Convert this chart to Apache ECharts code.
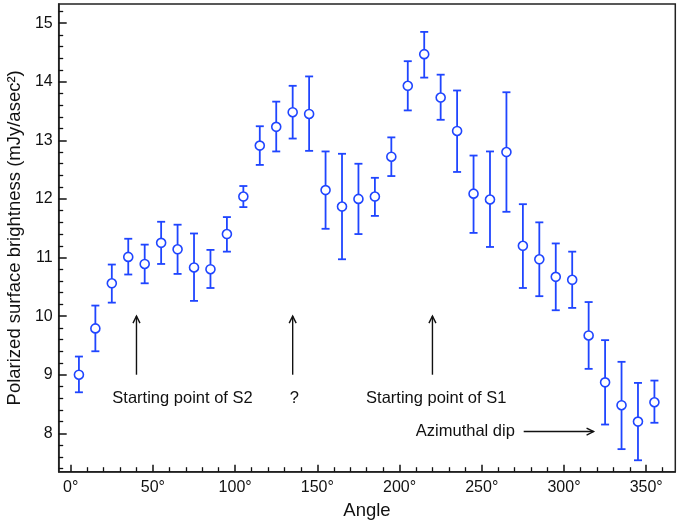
<!DOCTYPE html>
<html><head><meta charset="utf-8">
<script src="https://cdn.jsdelivr.net/npm/echarts@6/dist/echarts.min.js"></script>
<style>html,body{margin:0;padding:0;background:#fff}#c{width:690px;height:524px}</style>
</head><body><div id="c"></div>
<script>
var angles = [5,15,25,35,45,55,65,75,85,95,105,115,125,135,145,155,165,175,185,195,205,215,225,235,245,255,265,275,285,295,305,315,325,335,345,355];
var values = [9.00,9.79,10.56,11.01,10.89,11.25,11.14,10.83,10.80,11.40,12.04,12.91,13.23,13.48,13.45,12.15,11.87,12.00,12.04,12.72,13.93,14.47,13.73,13.16,12.09,11.99,12.80,11.20,10.97,10.67,10.62,9.67,8.87,8.48,8.20,8.53];
var upper = [9.31,10.18,10.88,11.32,11.22,11.61,11.56,11.41,11.13,11.69,12.22,13.24,13.66,13.93,14.09,12.81,12.77,12.60,12.36,13.05,14.35,14.85,14.12,13.85,12.74,12.81,13.82,11.91,11.60,11.24,11.10,10.24,9.59,9.22,8.86,8.90];
var lower = [8.70,9.40,10.23,10.71,10.56,10.89,10.72,10.26,10.48,11.10,11.86,12.58,12.81,13.03,12.82,11.49,10.97,11.40,11.71,12.39,13.51,14.07,13.35,12.46,11.42,11.18,11.78,10.48,10.34,10.10,10.14,9.10,8.15,7.73,7.54,8.18];
var xTicks = [0,50,100,150,200,250,300,350];
var xMinorTicks = [10,20,30,40,60,70,80,90,110,120,130,140,160,170,180,190,210,220,230,240,260,270,280,290,310,320,330,340,360];
var yTicks = [8,9,10,11,12,13,14,15];
var yMinorTicks = [7.4,7.6,7.8,8.2,8.4,8.6,8.8,9.2,9.4,9.6,9.8,10.2,10.4,10.6,10.8,11.2,11.4,11.6,11.8,12.2,12.4,12.6,12.8,13.2,13.4,13.6,13.8,14.2,14.4,14.6,14.8,15.2];
var arrows = [[40,9.0,40,10.0],[135,9.0,135,10.0],[220,9.0,220,10.0],[275.5,8.03,318,8.03]];
var notes = [[68,8.6,'Starting point of S2'],[136,8.6,'?'],[222.3,8.6,'Starting point of S1'],[240,8.03,'Azimuthal dip']];

var BLUE = '#1f45ff';
var FONT = '"Liberation Sans", Arial, Helvetica, sans-serif';
var XMIN = -7.3, XMAX = 367.7, YMIN = 7.345, YMAX = 15.326;

var chart = echarts.init(document.getElementById('c'));
var errData = angles.map(function(a,i){return [a, lower[i], upper[i]];});
var ptData = angles.map(function(a,i){return [a, values[i]];});

chart.setOption({
  animation: false,
  grid: {left: 58.7, right: 14.7, top: 4, bottom: 52.3, outerBoundsMode: 'none', show: true, borderColor: '#222', borderWidth: 1.5},
  xAxis: [{
    type: 'value', min: XMIN, max: XMAX, position: 'bottom',
    name: 'Angle', nameLocation: 'middle', nameGap: 30,
    nameTextStyle: {fontFamily: FONT, fontSize: 18.5, color: '#111'},
    axisLine: {show: true, onZero: false, lineStyle: {color: '#222', width: 1.5}},
    axisTick: {show: true, inside: true, length: 7, customValues: xTicks, lineStyle: {color: '#111', width: 1.5}},
    axisLabel: {customValues: xTicks, fontFamily: FONT, fontSize: 16, color: '#111', margin: 8, formatter: '{value}°'},
    splitLine: {show: false}
  },{
    type: 'value', min: XMIN, max: XMAX, position: 'bottom',
    axisLine: {show: false, onZero: false},
    axisTick: {show: true, inside: true, length: 4.5, customValues: xMinorTicks, lineStyle: {color: '#111', width: 1.3}},
    axisLabel: {show: false}, splitLine: {show: false}
  }],
  yAxis: [{
    type: 'value', min: YMIN, max: YMAX, position: 'left',
    name: 'Polarized surface brightness (mJy/asec²)', nameLocation: 'middle', nameGap: 31,
    nameTextStyle: {fontFamily: FONT, fontSize: 18.5, color: '#111'},
    axisLine: {show: true, onZero: false, lineStyle: {color: '#222', width: 1.5}},
    axisTick: {show: true, inside: true, length: 8, customValues: yTicks, lineStyle: {color: '#111', width: 1.5}},
    axisLabel: {customValues: yTicks, fontFamily: FONT, fontSize: 16, color: '#111', margin: 6},
    splitLine: {show: false}
  },{
    type: 'value', min: YMIN, max: YMAX, position: 'left',
    axisLine: {show: false, onZero: false},
    axisTick: {show: true, inside: true, length: 4.5, customValues: yMinorTicks, lineStyle: {color: '#111', width: 1.3}},
    axisLabel: {show: false}, splitLine: {show: false}
  }],
  series: [
    {
      type: 'custom', data: errData, z: 2,
      renderItem: function(params, api){
        var x = api.value(0);
        var lo = api.coord([x, api.value(1)]);
        var hi = api.coord([x, api.value(2)]);
        var hw = 4;
        var st = {stroke: BLUE, lineWidth: 1.8};
        return {type: 'group', children: [
          {type: 'line', shape: {x1: lo[0], y1: lo[1], x2: hi[0], y2: hi[1]}, style: st},
          {type: 'line', shape: {x1: lo[0]-hw, y1: lo[1], x2: lo[0]+hw, y2: lo[1]}, style: st},
          {type: 'line', shape: {x1: hi[0]-hw, y1: hi[1], x2: hi[0]+hw, y2: hi[1]}, style: st}
        ]};
      }
    },
    {
      type: 'scatter', data: ptData, z: 3,
      symbol: 'circle', symbolSize: 9,
      itemStyle: {color: '#fff', borderColor: BLUE, borderWidth: 1.6, opacity: 1}
    },
    {
      type: 'custom', data: arrows, z: 4, silent: true,
      renderItem: function(params, api){
        var p1 = api.coord([api.value(0), api.value(1)]);
        var p2 = api.coord([api.value(2), api.value(3)]);
        var dx = p2[0]-p1[0], dy = p2[1]-p1[1];
        var L = Math.sqrt(dx*dx+dy*dy); var ux = dx/L, uy = dy/L;
        var hl = 7, hw = 3.5;
        var a = [p2[0]-ux*hl - uy*hw, p2[1]-uy*hl + ux*hw];
        var b = [p2[0]-ux*hl + uy*hw, p2[1]-uy*hl - ux*hw];
        var st = {stroke: '#111', lineWidth: 1.4, fill: null};
        return {type: 'group', children: [
          {type: 'line', shape: {x1: p1[0], y1: p1[1], x2: p2[0], y2: p2[1]}, style: st},
          {type: 'polyline', shape: {points: [a, p2, b]}, style: st}
        ]};
      }
    },
    {
      type: 'custom', data: notes, z: 4, silent: true,
      renderItem: function(params, api){
        var p = api.coord([api.value(0), api.value(1)]);
        return {type: 'text', x: p[0], y: p[1], style: {text: notes[params.dataIndex][2], fontFamily: FONT, fontSize: 16.5, fill: '#111', align: 'center', verticalAlign: 'middle'}};
      }
    }
  ]
});
</script></body></html>
